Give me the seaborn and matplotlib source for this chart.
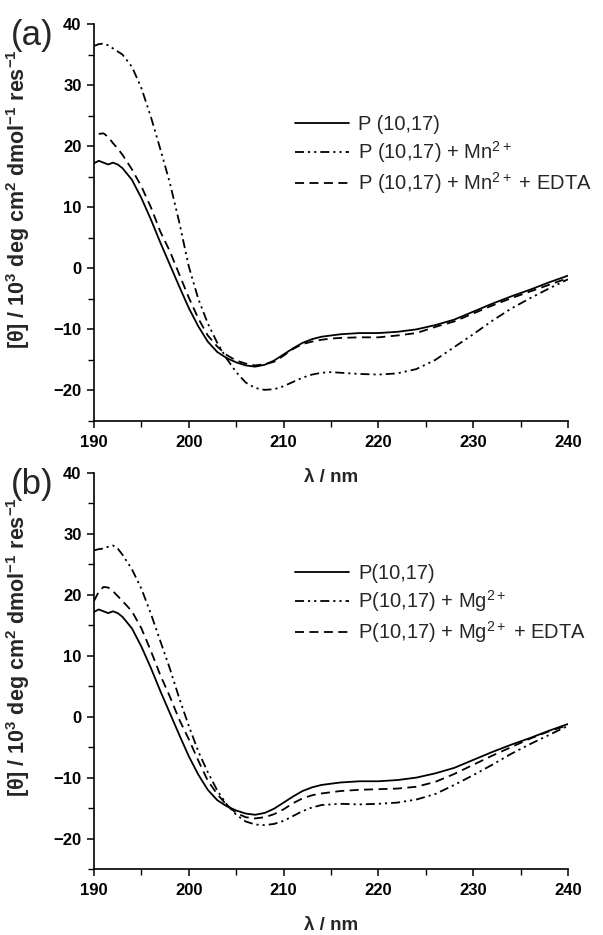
import numpy as np
import pandas as pd
import matplotlib
matplotlib.use("Agg")
import matplotlib.pyplot as plt
import seaborn as sns
from matplotlib.ticker import MultipleLocator

sns.set_theme(style="ticks")
plt.rcParams['font.family'] = ['Liberation Sans', 'DejaVu Sans']
plt.rcParams['mathtext.fontset'] = 'custom'
plt.rcParams['mathtext.rm'] = 'Liberation Sans'
plt.rcParams['mathtext.it'] = 'Liberation Sans:italic'
plt.rcParams['mathtext.bf'] = 'Liberation Sans:bold'

# ---- data ----
wavelength = [190, 190.5, 191, 191.5, 192, 192.5, 193, 194, 195, 196, 197, 198, 199, 200,
              201, 202, 203, 204, 205, 206, 207, 208, 209, 210, 211, 212, 213, 214, 215,
              216, 218, 220, 222, 224, 226, 228, 230, 232, 234, 236, 238, 240]

p_only = [17.2, 17.6, 17.3, 17.0, 17.3, 17.0, 16.4, 14.5, 11.5, 8.0, 4.2, 0.6, -3.0, -6.5,
          -9.5, -12.0, -13.7, -14.7, -15.4, -15.9, -16.1, -15.8, -15.1, -14.1, -13.1, -12.2,
          -11.6, -11.2, -11.0, -10.8, -10.6, -10.6, -10.4, -10.0, -9.3, -8.4, -7.1, -5.8,
          -4.6, -3.5, -2.3, -1.2]

a_wl_edta = wavelength[1:]
p_mn_edta = [22.0, 22.1, 21.5, 20.5, 19.6, 18.6, 16.2, 13.4, 10.0, 6.0, 2.8, -1.0, -4.8,
             -8.2, -11.0, -12.8, -14.2, -15.1, -15.6, -15.9, -15.7, -15.3, -14.3, -13.2,
             -12.4, -12.0, -11.7, -11.5, -11.4, -11.3, -11.3, -11.0, -10.6, -9.6, -8.7,
             -7.4, -6.1, -4.9, -3.8, -2.7, -1.6]

p_mn = [36.4, 36.7, 36.8, 36.5, 36.0, 35.5, 35.0, 33.0, 29.5, 24.8, 19.5, 14.0, 7.5, 0.3,
        -5.0, -9.0, -12.2, -14.8, -17.0, -18.7, -19.6, -19.9, -19.8, -19.3, -18.6, -17.9,
        -17.4, -17.1, -17.0, -17.1, -17.3, -17.4, -17.2, -16.5, -15.0, -12.9, -10.8, -8.6,
        -6.6, -4.9, -3.3, -1.8]

p_mg_edta = [19.0, 20.5, 21.3, 21.2, 20.6, 19.8, 19.0, 17.3, 14.5, 10.8, 6.8, 3.3, -0.5,
             -3.7, -7.2, -10.5, -12.7, -14.5, -15.8, -16.5, -16.7, -16.5, -16.0, -15.2,
             -14.2, -13.4, -12.9, -12.6, -12.4, -12.2, -12.0, -11.9, -11.8, -11.5, -10.7,
             -9.4, -7.9, -6.4, -5.0, -3.6, -2.4, -1.4]

p_mg = [27.3, 27.5, 27.6, 27.9, 28.1, 27.6, 26.6, 24.2, 21.0, 16.9, 12.4, 7.9, 3.0, -1.5,
        -5.7, -9.1, -12.1, -14.4, -16.1, -17.2, -17.7, -17.8, -17.6, -17.1, -16.3, -15.5,
        -14.9, -14.5, -14.4, -14.3, -14.4, -14.3, -14.1, -13.6, -12.7, -11.2, -9.6, -7.9,
        -6.1, -4.5, -3.0, -1.5]

labels_a = ['P (10,17)', 'P (10,17) + Mn$^{2+}$', 'P (10,17) + Mn$^{2+}$ + EDTA']
labels_b = ['P(10,17)', 'P(10,17) + Mg$^{2+}$', 'P(10,17) + Mg$^{2+}$ + EDTA']
x_ticks = [190, 200, 210, 220, 230, 240]
y_ticks = [-20, -10, 0, 10, 20, 30, 40]

# ---- figure ----
W, H = 603, 935
fig = plt.figure(figsize=(W / 100, H / 100), dpi=100)
fig.patch.set_facecolor('white')

def fx(px):
    return px / W

def fy(py):
    return 1 - py / H

ax_a = fig.add_axes([fx(94), fy(421), fx(568) - fx(94), fy(24) - fy(421)])
ax_b = fig.add_axes([fx(94), fy(869), fx(568) - fx(94), fy(473) - fy(869)])

dashdotdot = (0, (5, 2.2, 1.2, 2.2, 1.2, 2.2))
dashed = (0, (5, 3))

panels = [
    (ax_a, [(wavelength, p_only, '-'), (wavelength, p_mn, dashdotdot), (a_wl_edta, p_mn_edta, dashed)], labels_a, '(a)', 24),
    (ax_b, [(wavelength, p_only, '-'), (wavelength, p_mg, dashdotdot), (wavelength, p_mg_edta, dashed)], labels_b, '(b)', 473),
]

for ax, series, labels, tag, top_px in panels:
    for (xs, ys, ls), lab in zip(series, labels):
        df = pd.DataFrame({'x': xs, 'y': ys})
        sns.lineplot(data=df, x='x', y='y', ax=ax, color='black', linewidth=1.3,
                     linestyle=ls, label=lab, estimator=None, sort=False)
    ax.set_xlim(190, 240)
    ax.set_ylim(-25, 40)
    ax.set_xticks(x_ticks)
    ax.set_yticks(y_ticks)
    ax.xaxis.set_minor_locator(MultipleLocator(5))
    ax.yaxis.set_minor_locator(MultipleLocator(5))
    ax.tick_params(which='major', direction='out', length=5, width=1.1, labelsize=12, pad=4, colors='black')
    ax.tick_params(which='minor', direction='out', length=4, width=1.0, colors='black')
    ax.tick_params(axis='x', which='major', pad=5)
    for lbl in ax.get_xticklabels() + ax.get_yticklabels():
        lbl.set_fontweight('bold')
    sns.despine(ax=ax)
    for s in ['left', 'bottom']:
        ax.spines[s].set_linewidth(1.2)
        ax.spines[s].set_color('black')
    ax.set_xlabel('λ / nm', fontsize=13.5, fontweight='bold', labelpad=14)
    ax.set_ylabel(r'[θ] / 10$^{\mathbf{3}}$ deg cm$^{\mathbf{2}}$ dmol$^{\mathbf{-1}}$ res$^{\mathbf{-1}}$',
                  fontsize=15.5, fontweight='bold')
    ax.yaxis.set_label_coords(-0.13, 0.56)
    ax.patch.set_alpha(0)
    leg = ax.legend(loc='upper left', bbox_to_anchor=(fx(295), fy(top_px + 91)),
                    bbox_transform=fig.transFigure, frameon=False, fontsize=14.5,
                    handlelength=2.7, handletextpad=0.45, borderpad=0, borderaxespad=0,
                    labelspacing=0.25)
    fig.text(fx(32), fy(top_px + 11), tag, fontsize=25, ha='center', va='center')

fig.savefig('out.png', dpi=100, facecolor='white')
